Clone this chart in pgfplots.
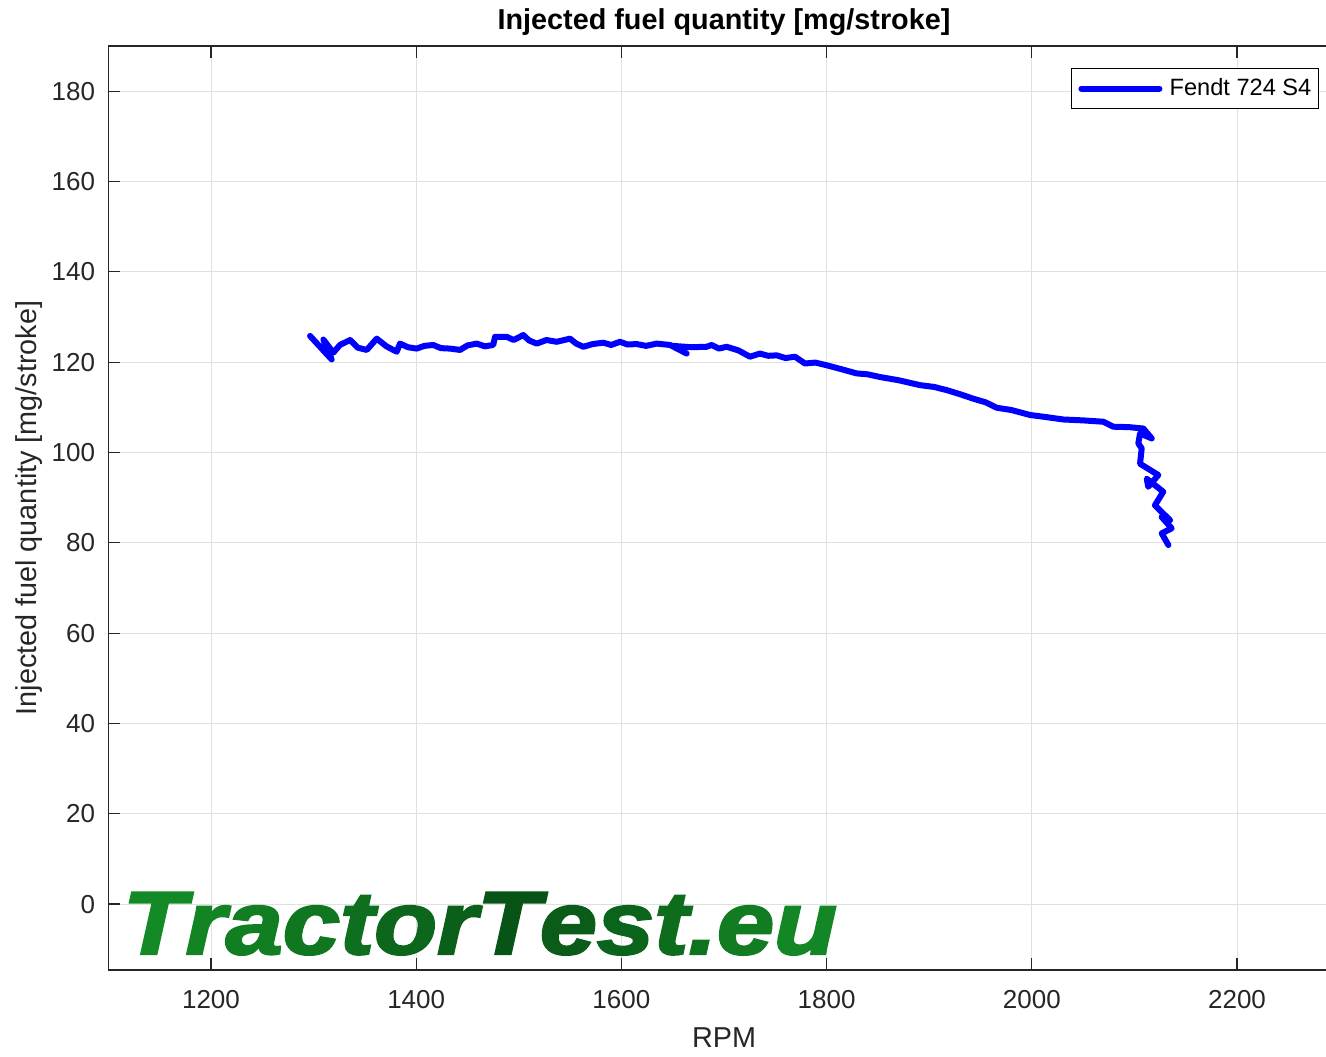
\documentclass[border=0pt]{standalone}
\usepackage{pgfplots}
\pgfplotsset{compat=1.18}
\usepackage{fontspec}
\setmainfont{Liberation Sans}
\newfontfamily\wmfont{Liberation Sans}[UprightFont=* Bold Italic, FakeBold=2.5]
\definecolor{axgray}{rgb}{0.15,0.15,0.15}
\definecolor{gridgray}{rgb}{0.88,0.88,0.88}
\definecolor{wmlight}{RGB}{20,138,38}
\definecolor{wmdark}{RGB}{8,84,22}
\newcommand{\wl}[2]{{\color{wmdark!#1!wmlight}#2}}
\pgfplotstableread{
x y
1296.5 125.8
1317.6 120.6
1309.5 125.0
1319.2 122.1
1325.7 123.8
1335.5 124.9
1343.0 123.2
1351.8 122.7
1361.5 125.2
1371.0 123.5
1381.0 122.3
1384.2 124.1
1392.0 123.3
1400.4 123.0
1408.0 123.6
1416.6 123.8
1424.0 123.1
1432.9 123.0
1442.7 122.7
1450.0 123.7
1459.0 124.1
1467.0 123.5
1475.1 123.8
1476.8 125.6
1488.2 125.6
1495.0 124.9
1504.4 126.0
1510.0 124.8
1517.5 124.1
1527.0 124.9
1536.9 124.5
1549.9 125.2
1556.0 124.1
1562.9 123.4
1572.0 124.0
1582.4 124.3
1590.0 123.8
1598.6 124.5
1606.0 123.9
1614.9 124.0
1624.0 123.6
1634.4 124.1
1647.4 123.8
1663.6 121.9
1650.0 123.6
1668.0 123.3
1683.1 123.4
1688.0 123.8
1695.0 123.0
1702.6 123.4
1714.0 122.6
1725.3 121.2
1735.0 121.9
1743.0 121.4
1751.4 121.5
1760.0 120.9
1769.2 121.2
1778.9 119.7
1789.0 119.9
1800.1 119.3
1815.0 118.4
1829.3 117.5
1840.0 117.3
1852.1 116.7
1870.0 116.0
1891.1 114.9
1905.0 114.5
1917.1 113.8
1930.0 112.9
1943.0 111.9
1955.0 111.1
1965.8 109.9
1980.0 109.4
1998.2 108.3
2015.0 107.8
2030.7 107.3
2050.0 107.1
2069.7 106.8
2079.5 105.7
2095.0 105.6
2108.7 105.3
2116.9 103.1
2105.5 104.2
2103.8 102.0
2107.1 100.9
2105.5 97.5
2123.3 95.0
2113.5 92.4
2112.0 94.2
2128.1 91.3
2120.0 88.3
2134.7 85.0
2126.6 85.7
2136.3 83.2
2126.6 82.1
2133.1 79.5
}\fuel
\begin{document}
\begin{tikzpicture}
\begin{axis}[
  name=ax,
  scale only axis,
  width=615.6pt, height=462pt,
  xmin=1100, xmax=2300, ymin=-14.6, ymax=190,
  xtick={1200,1400,...,2200},
  ytick={0,20,...,180},
  grid=major,
  grid style={gridgray, line width=0.5pt},
  axis line style={axgray, line width=0.6pt},
  tick align=inside,
  major tick length=6pt,
  tick style={axgray, line width=0.6pt},
  /pgf/number format/assume math mode=true,
  /pgf/number format/1000 sep={},
  every tick label/.append style={font=\fontsize{13}{13}\selectfont, text=axgray},
  xticklabel style={anchor=center, inner sep=0pt, yshift=-15pt},
  yticklabel style={anchor=east, inner sep=0pt, xshift=-6.5pt},
  xlabel={RPM},
  xlabel style={at={(0.5,-0.0736)}, anchor=center, inner sep=0pt, font=\fontsize{14.4}{14.4}\selectfont, text=axgray},
  ylabel={Injected fuel quantity [mg/stroke]},
  ylabel style={at={(-0.0642,0.5)}, anchor=center, inner sep=0pt, font=\fontsize{14.4}{14.4}\selectfont, text=axgray},
  legend style={at={(0.9833,0.9762)}, anchor=north east, draw=black, line width=0.5pt,
    inner xsep=3.6pt, inner ysep=5pt, column sep=3.6pt,
    nodes={inner sep=0pt, font=\fontsize{11.8}{11.8}\selectfont, text=black}},
  legend image code/.code={\draw[#1] (0pt,0pt) -- (39pt,0pt);},
  clip=false,
]
\node[anchor=base west, inner sep=0pt] at (rel axis cs:0.0114,0.0173)
  {\scalebox{1.15}[1]{\fontsize{44.7}{44.7}\selectfont\wmfont\wl{0}{T}\wl{12}{r}\wl{22}{a}\wl{35}{c}\wl{50}{t}\wl{65}{o}\wl{80}{r}\wl{100}{T}\wl{85}{e}\wl{70}{s}\wl{55}{t}\wl{45}{.}\wl{25}{e}\wl{5}{u}}};
\node[anchor=center, inner sep=0pt, font=\fontsize{14.4}{14.4}\selectfont\bfseries] at (rel axis cs:0.5,1.026) {Injected fuel quantity [mg/stroke]};
\addplot[color=blue, line width=3pt, line join=round, line cap=round] table[x=x, y=y] {\fuel};
\addlegendentry{Fendt 724 S4}
\end{axis}
\pgfresetboundingbox
\path[use as bounding box] ([shift={(-54.2pt,-43pt)}]ax.south west) rectangle ([shift={(-6.8pt,23pt)}]ax.north east);
\end{tikzpicture}
\end{document}
